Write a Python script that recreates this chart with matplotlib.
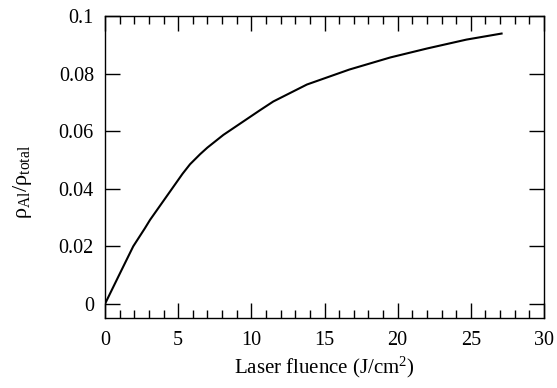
import matplotlib
matplotlib.use('Agg')
import matplotlib.pyplot as plt
from matplotlib.ticker import MultipleLocator

# valores
fluencia = [0, 1.03, 1.93, 2.73, 3.08, 4.44, 5.3, 5.81, 6.5, 7.0, 8.09, 10.6, 11.5, 13.8,
            16.7, 19.5, 22.0, 24.7, 27.1]
razao = [0, 0.0107, 0.0200, 0.0263, 0.0292, 0.0390, 0.0452, 0.0485, 0.0520, 0.0543, 0.0587,
         0.0673, 0.0703, 0.0762, 0.0814, 0.0856, 0.0887, 0.0918, 0.0939]
yticks = [0, 0.02, 0.04, 0.06, 0.08, 0.1]
ytick_labels = ['0', '0.02', '0.04', '0.06', '0.08', '0.1']

plt.rcParams['font.family'] = 'Liberation Serif'
plt.rcParams['mathtext.fontset'] = 'custom'
plt.rcParams['mathtext.rm'] = 'Liberation Serif'
plt.rcParams['mathtext.it'] = 'Liberation Serif:italic'

fig = plt.figure(figsize=(5.57, 3.88), dpi=100)
ax = fig.add_axes([0.1885, 0.1804, 0.7882, 0.7784])

ax.plot(fluencia, razao, color='black', linewidth=1.5)

ax.set_xlim(0, 30)
ax.set_ylim(-0.0049, 0.1)
ax.xaxis.set_major_locator(MultipleLocator(5))
ax.xaxis.set_minor_locator(MultipleLocator(1))
ax.set_yticks(yticks)
ax.set_yticklabels(ytick_labels)

ax.tick_params(which='both', direction='in', top=True, right=True, labelsize=14.5, width=1)
ax.tick_params(which='major', length=11)
ax.tick_params(which='minor', length=6)
ax.tick_params(axis='x', pad=9)
ax.tick_params(axis='y', pad=8)
for s in ax.spines.values():
    s.set_linewidth(1)

ax.set_xlabel('Laser fluence (J/cm$^2$)', fontsize=15, labelpad=4)
ax.set_ylabel(r'$\mathrm{\rho_{Al}/\rho_{total}}$', fontsize=16)
ax.yaxis.set_label_coords(-0.162, 0.45)

plt.savefig('out.png', dpi=100)
